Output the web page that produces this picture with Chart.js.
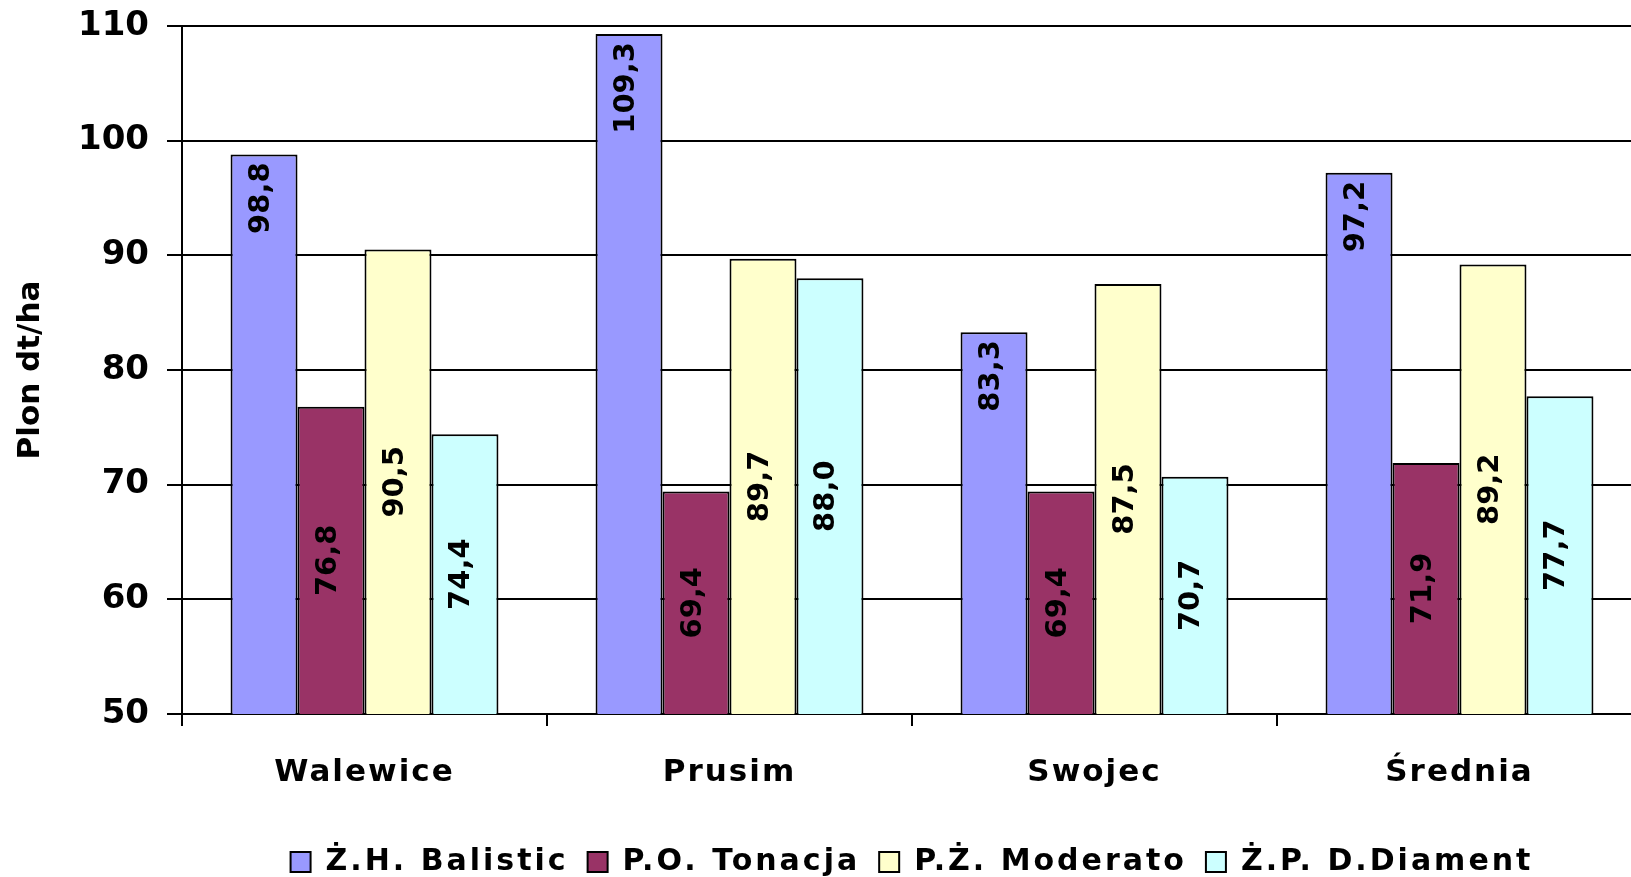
<!DOCTYPE html>
<html>
<head>
<meta charset="utf-8">
<script src="https://cdn.jsdelivr.net/npm/chart.js@4.4.0/dist/chart.umd.min.js"></script>
<style>
  html, body { margin: 0; padding: 0; background: #fff; overflow: hidden; }
  canvas { display: block; }
</style>
</head>
<body>
<canvas id="chart" width="1645" height="887"></canvas>
<script>
const locations = ['Walewice', 'Prusim', 'Swojec', 'Średnia'];
const seriesNames = ['Ż.H. Balistic', 'P.O. Tonacja', 'P.Ż. Moderato', 'Ż.P. D.Diament'];
const balistic = [98.8, 109.3, 83.3, 97.2];
const tonacja = [76.8, 69.4, 69.4, 71.9];
const moderato = [90.5, 89.7, 87.5, 89.2];
const diament = [74.4, 88.0, 70.7, 77.7];
const yTicks = [50, 60, 70, 80, 90, 100, 110];

const FONT = '"DejaVu Sans", sans-serif';
const colors = ['#9999FF', '#993366', '#FFFFCC', '#CCFFFF'];

// Chart.js has no letter-spacing option, so wrap the text drawing calls
function spaceText(obj, method, px) {
    const orig = obj[method];
    obj[method] = function (...args) {
        const prev = this.ctx.letterSpacing;
        this.ctx.letterSpacing = px + 'px';
        try {
            return orig.apply(this, args);
        } finally {
            this.ctx.letterSpacing = prev;
        }
    };
}

const spacing = {
    id: 'spacing',
    beforeLayout(chart) {
        if (chart.$spaced) return;
        chart.$spaced = true;
        spaceText(chart.scales.x, 'drawLabels', 2);
        spaceText(chart.legend, 'fit', 3);
        spaceText(chart.legend, 'draw', 3);
    }
};

// vertical value labels, inside the bar top for the first series, centred for the rest
const barLabels = {
    id: 'barLabels',
    afterDatasetsDraw(chart) {
        const ctx = chart.ctx;
        const bottom = chart.scales.y.bottom;
        ctx.save();
        ctx.font = 'bold 29px ' + FONT;
        ctx.fillStyle = '#000';
        ctx.textBaseline = 'middle';
        chart.data.datasets.forEach((ds, i) => {
            chart.getDatasetMeta(i).data.forEach((bar, j) => {
                const text = ds.data[j].toFixed(1).replace('.', ',');
                const atTop = ds.labelAnchor === 'end';
                const y = atTop ? bar.y + 8 : (bar.y + Math.min(bar.base, bottom)) / 2;
                ctx.save();
                ctx.translate(bar.x - 3, y);
                ctx.rotate(-Math.PI / 2);
                ctx.textAlign = atTop ? 'right' : 'center';
                ctx.fillText(text, 0, 0);
                ctx.restore();
            });
        });
        ctx.restore();
    }
};

const seriesData = [balistic, tonacja, moderato, diament];

new Chart(document.getElementById('chart'), {
    type: 'bar',
    data: {
        labels: locations,
        datasets: seriesData.map((d, i) => ({
            label: seriesNames[i],
            data: d,
            backgroundColor: colors[i],
            borderColor: '#000',
            borderWidth: 2,
            borderSkipped: false,
            barPercentage: 1,
            categoryPercentage: 0.734,
            labelAnchor: i === 0 ? 'end' : 'center'
        }))
    },
    options: {
        responsive: false,
        animation: false,
        events: [],
        layout: { padding: { top: 0, right: 3, bottom: 0, left: 0 } },
        scales: {
            x: {
                grid: { offset: true, drawOnChartArea: false, tickLength: 12, color: '#000', lineWidth: 2 },
                border: { color: '#000', width: 2 },
                ticks: {
                    color: '#000',
                    font: { family: FONT, size: 31, weight: 'bold' },
                    padding: 28,
                    maxRotation: 0,
                    autoSkip: false
                },
                afterFit: s => { s.height = 114; }
            },
            y: {
                min: yTicks[0],
                max: yTicks[yTicks.length - 1],
                afterBuildTicks: s => { s.ticks = yTicks.map(v => ({ value: v })); },
                grid: { color: '#000', lineWidth: 2, tickLength: 15 },
                border: { color: '#000', width: 2 },
                ticks: {
                    color: '#000',
                    font: { family: FONT, size: 34, weight: 'bold' },
                    padding: 18
                },
                title: {
                    display: true,
                    text: 'Plon dt/ha',
                    color: '#000',
                    font: { family: FONT, size: 31, weight: 'bold' },
                    padding: { top: 12, bottom: 0 }
                },
                afterFit: s => {
                    s.width = 182;
                    s.paddingTop = 26;
                }
            }
        },
        plugins: {
            legend: {
                position: 'bottom',
                fullSize: false,
                labels: {
                    boxWidth: 20,
                    boxHeight: 20,
                    padding: 19,
                    color: '#000',
                    font: { family: FONT, size: 30, weight: 'bold' }
                }
            },
            tooltip: { enabled: false }
        }
    },
    plugins: [spacing, barLabels]
});
</script>
</body>
</html>
